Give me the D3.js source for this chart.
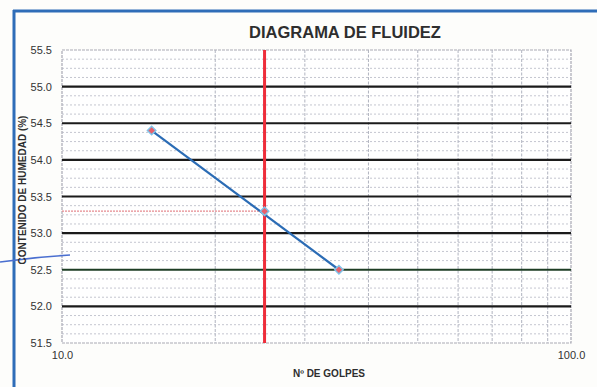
<!DOCTYPE html>
<html>
<head>
<meta charset="utf-8">
<script src="https://cdn.jsdelivr.net/npm/d3@7"></script>
<style>
  html, body { margin: 0; padding: 0; background: #fdfdfb; }
  svg { display: block; }
  text { font-family: "Liberation Sans", Arial, sans-serif; }
</style>
</head>
<body>
<svg id="chart" width="597" height="387"></svg>
<script>
// Flow curve (Casagrande): blows vs. moisture content
const blows = [15, 25, 35];
const moisture = [54.4, 53.3, 52.5];
const liquidLimitBlows = 25;
const liquidLimitMoisture = 53.3;
const yTicks = [51.5, 52.0, 52.5, 53.0, 53.5, 54.0, 54.5, 55.0, 55.5];
const xTickLabels = [10, 100];
const xMinorLines = [20, 30, 40, 50, 60, 70, 80, 90];

const svg = d3.select("#chart");
const m = { left: 62, right: 571, top: 50, bottom: 343 };

const x = d3.scaleLog().domain([10, 100]).range([m.left, m.right]);
const y = d3.scaleLinear().domain([51.5, 55.5]).range([m.bottom, m.top]);

// outer frame (blue border, left and top)
svg.append("line").attr("x1", 13).attr("x2", 597).attr("y1", 11).attr("y2", 11)
  .attr("stroke", "#2f6db8").attr("stroke-width", 3);
svg.append("line").attr("x1", 14).attr("x2", 14).attr("y1", 10).attr("y2", 387)
  .attr("stroke", "#2f6db8").attr("stroke-width", 3);

// plot background
svg.append("rect").attr("x", m.left).attr("y", m.top)
  .attr("width", m.right - m.left).attr("height", m.bottom - m.top)
  .attr("fill", "#ffffff").attr("stroke", "#a9a9b4").attr("stroke-width", 1.2)
  .attr("stroke-dasharray", "3,1");

// minor horizontal grid (every 0.125)
const minorY = d3.range(51.5, 55.5 + 1e-9, 0.125).filter(v => Math.abs(v * 2 - Math.round(v * 2)) > 1e-6);
svg.append("g").selectAll("line").data(minorY).join("line")
  .attr("x1", m.left).attr("x2", m.right)
  .attr("y1", d => y(d)).attr("y2", d => y(d))
  .attr("stroke", "#b5b8c4").attr("stroke-width", 0.8).attr("stroke-dasharray", "2,2");

// vertical log grid
svg.append("g").selectAll("line").data(xMinorLines).join("line")
  .attr("x1", d => x(d)).attr("x2", d => x(d))
  .attr("y1", m.top).attr("y2", m.bottom)
  .attr("stroke", "#b0b3bf").attr("stroke-width", 1).attr("stroke-dasharray", "3,1.5");

// major horizontal grid
const majorY = yTicks.filter(v => v > 51.5 && v < 55.5);
svg.append("g").selectAll("line").data(majorY).join("line")
  .attr("x1", m.left).attr("x2", m.right)
  .attr("y1", d => y(d)).attr("y2", d => y(d))
  .attr("stroke", d => d === 52.5 ? "#1d3d24" : "#1b1b1b").attr("stroke-width", 2.2);

// liquid limit guides
svg.append("line")
  .attr("x1", m.left).attr("x2", x(liquidLimitBlows))
  .attr("y1", y(liquidLimitMoisture)).attr("y2", y(liquidLimitMoisture))
  .attr("stroke", "#e58a90").attr("stroke-width", 1.3).attr("stroke-dasharray", "2,1");
svg.append("line")
  .attr("x1", x(liquidLimitBlows)).attr("x2", x(liquidLimitBlows))
  .attr("y1", m.top).attr("y2", m.bottom)
  .attr("stroke", "#ee2e3a").attr("stroke-width", 3);

// y axis labels
const yAxis = d3.axisLeft(y).tickValues(yTicks).tickFormat(d3.format(".1f")).tickSize(0).tickPadding(10);
const ga = svg.append("g").attr("transform", `translate(${m.left},0)`).call(yAxis);
ga.select(".domain").remove();
ga.selectAll("text").attr("font-size", 11).attr("fill", "#333").attr("font-family", "Liberation Sans, Arial, sans-serif");

// x axis labels
const xAxis = d3.axisBottom(x).tickValues(xTickLabels).tickFormat(d3.format(".1f")).tickSize(0).tickPadding(8);
const gx = svg.append("g").attr("transform", `translate(0,${m.bottom})`).call(xAxis);
gx.select(".domain").remove();
gx.selectAll("text").attr("font-size", 11).attr("fill", "#333").attr("font-family", "Liberation Sans, Arial, sans-serif");

// data line and markers (square markers turned 45°)
const pts = blows.map((b, i) => [b, moisture[i]]);
svg.append("path").datum([pts[0], pts[2]])
  .attr("d", d3.line().x(d => x(d[0])).y(d => y(d[1])))
  .attr("fill", "none").attr("stroke", "#2b6cb5").attr("stroke-width", 2.2);
svg.append("g").selectAll("path").data(pts).join("path")
  .attr("transform", d => `translate(${x(d[0])},${y(d[1])}) rotate(45)`)
  .attr("d", d3.symbol(d3.symbolSquare, 36)())
  .attr("fill", "#e8606b").attr("stroke", "#7ec3ea").attr("stroke-width", 1.4);

// pen mark across the left margin
svg.append("path")
  .attr("d", "M0,262 Q35,257 70,255")
  .attr("fill", "none").attr("stroke", "#4a6fd0").attr("stroke-width", 1.3);

// titles
svg.append("text").attr("x", 345).attr("y", 38).attr("text-anchor", "middle")
  .attr("font-size", 16.5).attr("font-weight", "bold").attr("fill", "#2e2e2e")
  .text("DIAGRAMA DE FLUIDEZ");
svg.append("text").attr("x", 329).attr("y", 377).attr("text-anchor", "middle")
  .attr("font-size", 10).attr("font-weight", "bold").attr("fill", "#2e2e2e")
  .text("Nº DE GOLPES");
svg.append("text").attr("transform", "translate(26,190) rotate(-90)").attr("text-anchor", "middle")
  .attr("font-size", 10).attr("font-weight", "bold").attr("fill", "#2e2e2e")
  .text("CONTENIDO DE HUMEDAD (%)");
</script>
</body>
</html>
